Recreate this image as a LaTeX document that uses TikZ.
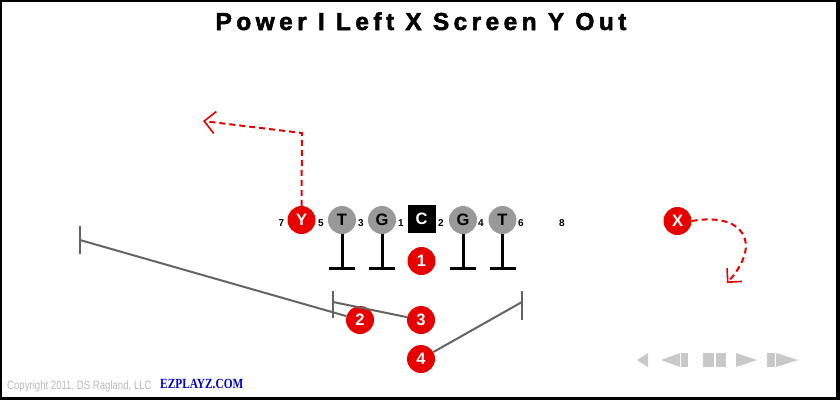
\documentclass[tikz,border=0pt]{standalone}
\usepackage{fontspec}
\setmainfont{Liberation Sans}
\newfontfamily\titlefont{Liberation Sans}[LetterSpace=18, FakeBold=2]
\newfontfamily\serifbold{Liberation Serif}
\usetikzlibrary{arrows.meta}
\definecolor{pred}{RGB}{232,0,0}
\definecolor{pgray}{RGB}{153,153,153}
\definecolor{aline}{RGB}{100,100,100}
\definecolor{copyg}{RGB}{185,185,185}
\definecolor{navg}{RGB}{200,200,200}
\definecolor{ezblue}{RGB}{0,0,204}
\begin{document}
\begin{tikzpicture}[x=1pt,y=-1pt,
  player/.style={circle, fill=pred, text=white, minimum size=28pt, inner sep=0pt,
    font=\fontsize{16.5}{16.5}\selectfont\bfseries},
  lineman/.style={player, fill=pgray, text=black},
  centerbox/.style={rectangle, fill=black, text=white, minimum size=28pt, inner sep=0pt,
    font=\fontsize{16.5}{16.5}\selectfont\bfseries},
  gapnum/.style={anchor=base, inner sep=0pt, font=\fontsize{10}{10}\selectfont\bfseries},
  blockline/.style={line width=3pt, black},
  route/.style={draw=pred, line width=2pt, dash pattern=on 6pt off 4pt},
  assign/.style={draw=aline, line width=2pt},
  navshape/.style={fill=navg, draw=none}]
\useasboundingbox (0,0) rectangle (840,400);
% frame
\fill[black] (0,0) rectangle (840,400);
\fill[white] (2,2) rectangle (836,397);
% title
\node[anchor=base, inner sep=0pt, font=\titlefont\fontsize{24.5}{24.5}\selectfont\bfseries] (title) at (421,30) {Power I Left X Screen Y Out};
% line
\node[player] (pY) at (301.5,220) {Y};
\node[lineman] (lt) at (342,220) {T};
\node[lineman] (lg) at (382,220) {G};
\node[centerbox] (cC) at (421.5,219) {C};
\node[lineman] (rg) at (463,220) {G};
\node[lineman] (rt) at (502.5,220) {T};
\node[player] (pX) at (677.5,221) {X};
% gap numbers
\node[gapnum] (g7) at (281.5,226) {7};
\node[gapnum] (g5) at (321,226) {5};
\node[gapnum] (g3) at (361,226) {3};
\node[gapnum] (g1) at (401,226) {1};
\node[gapnum] (g2) at (441,226) {2};
\node[gapnum] (g4) at (481,226) {4};
\node[gapnum] (g6) at (521,226) {6};
\node[gapnum] (g8) at (562,226) {8};
% backs
\node[player] (p1) at (421.5,261) {1};
\node[player] (p2) at (360,320) {2};
\node[player] (p3) at (421,320) {3};
\node[player] (p4) at (421,359) {4};
% blocks
\foreach \n in {lt,lg,rg,rt}{
  \draw[blockline] (\n.south) -- ++(0,34) coordinate (\n b);
  \draw[blockline] (\n b) ++(-13,0) -- ++(26,0);
}
% assignments
\coordinate (a2) at (80,240);
\coordinate (a3) at (333,302);
\coordinate (a4) at (522,302);
\draw[assign] (p2) -- (a2);
\draw[assign] (a2) ++(0,-14) -- ++(0,28);
\draw[assign] (p3) -- (a3);
\draw[assign] (a3) ++(0,-11) -- ++(0,27);
\draw[assign] (p4) -- (a4);
\draw[assign] (a4) ++(0,-11) -- ++(0,29);
% routes
\coordinate (yturn) at (302,133);
\coordinate (ytip) at (203,121);
\draw[route, -{Straight Barb[length=11pt,width=22pt,line width=1.6pt]}] (pY.north) -- (yturn) -- (ytip);
\coordinate (xtip) at (727,283);
\draw[route, -{Straight Barb[length=10pt,width=20pt,line width=1.6pt]}] (pX.east) .. controls (742,212) and (764,242) .. (xtip);
% footer
\node[anchor=base west, inner sep=0pt, text=copyg, font=\fontsize{12}{12}\selectfont] (copy) at (7,389) {\scalebox{0.8}[1]{Copyright 2011, DS Ragland, LLC}};
\node[anchor=base west, inner sep=0pt, text=ezblue, font=\serifbold\fontsize{14}{14}\selectfont\bfseries] (ez) at (160,388) {\scalebox{0.81}[1]{EZPLAYZ.COM}};
% navigation
\fill[navshape] (637,360) -- (648,353) -- (648,367) -- cycle;
\fill[navshape] (661,360) -- (680,353) -- (680,367) -- cycle;
\fill[navshape] (681,353) rectangle (688,367);
\fill[navshape] (703,353) rectangle (714,367);
\fill[navshape] (716,353) rectangle (726,367);
\fill[navshape] (757,360) -- (736,353) -- (736,367) -- cycle;
\fill[navshape] (767,353) rectangle (775,367);
\fill[navshape] (798,360) -- (776,353) -- (776,367) -- cycle;
\end{tikzpicture}
\end{document}
